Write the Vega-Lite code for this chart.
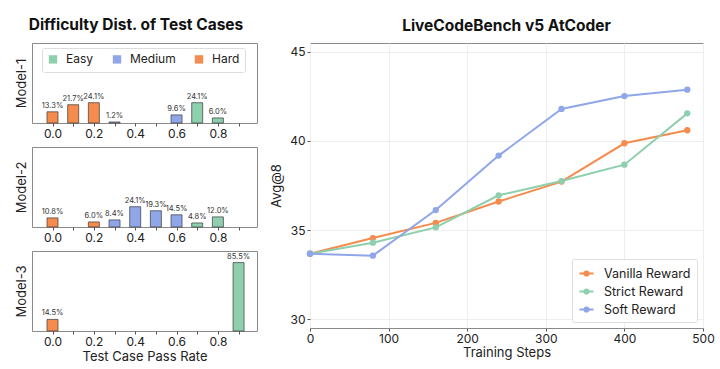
{
  "$schema": "https://vega.github.io/schema/vega-lite/v6.json",
  "padding": {"left": 14, "top": 18, "right": 2, "bottom": 4},
  "config": {
    "font": "Inter",
    "view": {"stroke": "#8a8a8a", "strokeWidth": 1},
    "title": {"fontSize": 15.5, "fontWeight": "bold", "color": "#111", "offset": 9},
    "axis": {"labelFont": "Inter", "titleFont": "Inter", "labelColor": "#222", "titleColor": "#222", "titleFontWeight": "normal", "tickColor": "#555", "domain": false}
  },
  "datasets": {
    "bars": [
      {"model": "Model-1", "rate": 0.0, "pct": 13.3, "level": "Hard", "label": "13.3%"},
      {"model": "Model-1", "rate": 0.1, "pct": 21.7, "level": "Hard", "label": "21.7%"},
      {"model": "Model-1", "rate": 0.2, "pct": 24.1, "level": "Hard", "label": "24.1%"},
      {"model": "Model-1", "rate": 0.3, "pct": 1.2, "level": "Medium", "label": "1.2%"},
      {"model": "Model-1", "rate": 0.6, "pct": 9.6, "level": "Medium", "label": "9.6%"},
      {"model": "Model-1", "rate": 0.7, "pct": 24.1, "level": "Easy", "label": "24.1%"},
      {"model": "Model-1", "rate": 0.8, "pct": 6.0, "level": "Easy", "label": "6.0%"},
      {"model": "Model-2", "rate": 0.0, "pct": 10.8, "level": "Hard", "label": "10.8%"},
      {"model": "Model-2", "rate": 0.2, "pct": 6.0, "level": "Hard", "label": "6.0%"},
      {"model": "Model-2", "rate": 0.3, "pct": 8.4, "level": "Medium", "label": "8.4%"},
      {"model": "Model-2", "rate": 0.4, "pct": 24.1, "level": "Medium", "label": "24.1%"},
      {"model": "Model-2", "rate": 0.5, "pct": 19.3, "level": "Medium", "label": "19.3%"},
      {"model": "Model-2", "rate": 0.6, "pct": 14.5, "level": "Medium", "label": "14.5%"},
      {"model": "Model-2", "rate": 0.7, "pct": 4.8, "level": "Easy", "label": "4.8%"},
      {"model": "Model-2", "rate": 0.8, "pct": 12.0, "level": "Easy", "label": "12.0%"},
      {"model": "Model-3", "rate": 0.0, "pct": 14.5, "level": "Hard", "label": "14.5%"},
      {"model": "Model-3", "rate": 0.9, "pct": 85.5, "level": "Easy", "label": "85.5%"}
    ],
    "lines": [
      {"step": 0, "score": 33.67, "series": "Vanilla Reward"},
      {"step": 80, "score": 34.55, "series": "Vanilla Reward"},
      {"step": 160, "score": 35.4, "series": "Vanilla Reward"},
      {"step": 240, "score": 36.6, "series": "Vanilla Reward"},
      {"step": 320, "score": 37.72, "series": "Vanilla Reward"},
      {"step": 400, "score": 39.87, "series": "Vanilla Reward"},
      {"step": 480, "score": 40.6, "series": "Vanilla Reward"},
      {"step": 0, "score": 33.67, "series": "Strict Reward"},
      {"step": 80, "score": 34.29, "series": "Strict Reward"},
      {"step": 160, "score": 35.15, "series": "Strict Reward"},
      {"step": 240, "score": 36.95, "series": "Strict Reward"},
      {"step": 320, "score": 37.75, "series": "Strict Reward"},
      {"step": 400, "score": 38.67, "series": "Strict Reward"},
      {"step": 480, "score": 41.55, "series": "Strict Reward"},
      {"step": 0, "score": 33.67, "series": "Soft Reward"},
      {"step": 80, "score": 33.56, "series": "Soft Reward"},
      {"step": 160, "score": 36.12, "series": "Soft Reward"},
      {"step": 240, "score": 39.18, "series": "Soft Reward"},
      {"step": 320, "score": 41.8, "series": "Soft Reward"},
      {"step": 400, "score": 42.52, "series": "Soft Reward"},
      {"step": 480, "score": 42.88, "series": "Soft Reward"}
    ]
  },
  "resolve": {"scale": {"color": "independent"}, "legend": {"color": "independent"}},
  "spacing": 12,
  "hconcat": [
    {
      "title": {"text": "Difficulty Dist. of Test Cases", "anchor": "middle"},
      "spacing": 6,
      "resolve": {"scale": {"color": "independent", "x": "independent", "y": "independent"}, "legend": {"color": "independent"}},
      "vconcat": [
        {
          "width": 225, "height": 80,
          "data": {"name": "bars"},
          "transform": [{"filter": "datum.model == 'Model-1'"}],
          "encoding": {
            "x": {"field": "rate", "type": "quantitative", "scale": {"domain": [-0.075, 0.965], "nice": false, "zero": false},
              "axis": {"title": null, "grid": false, "values": [0, 0.1, 0.2, 0.3, 0.4, 0.5, 0.6, 0.7, 0.8, 0.9], "labelExpr": "(round(datum.value*10) % 2 == 0 && datum.value < 0.85) ? format(datum.value, '.1f') : ''", "labelFontSize": 12, "tickSize": 3, "labelPadding": 2}},
            "y": {"field": "pct", "type": "quantitative", "scale": {"domain": [0, 95], "nice": false},
              "axis": {"title": "Model-1", "labels": false, "ticks": false, "grid": false, "titleFontSize": 13, "titlePadding": 4}}
          },
          "layer": [
            {"mark": {"type": "bar", "size": 11, "stroke": "#3a3a3a", "strokeWidth": 0.7},
             "encoding": {"color": {"field": "level", "type": "nominal", "scale": {"domain": ["Easy", "Medium", "Hard"], "range": ["#8ecfae", "#8fa6e8", "#f58b4c"]},
               "legend": {"title": null, "orient": "none", "legendX": 10, "legendY": 5, "direction": "horizontal", "symbolType": "square", "symbolSize": 70, "symbolStrokeColor": "transparent", "labelFontSize": 12, "labelFont": "Inter", "labelColor": "#222", "columnPadding": 15, "labelOffset": 7, "strokeColor": "#dddddd", "fillColor": "white", "padding": 5, "cornerRadius": 2}}}},
            {"mark": {"type": "text", "dy": -2, "baseline": "bottom", "fontSize": 7.5, "color": "#333"},
             "encoding": {"text": {"field": "label"}}}
          ]
        },
        {
          "width": 225, "height": 80,
          "data": {"name": "bars"},
          "transform": [{"filter": "datum.model == 'Model-2'"}],
          "encoding": {
            "x": {"field": "rate", "type": "quantitative", "scale": {"domain": [-0.075, 0.965], "nice": false, "zero": false},
              "axis": {"title": null, "grid": false, "values": [0, 0.1, 0.2, 0.3, 0.4, 0.5, 0.6, 0.7, 0.8, 0.9], "labelExpr": "(round(datum.value*10) % 2 == 0 && datum.value < 0.85) ? format(datum.value, '.1f') : ''", "labelFontSize": 12, "tickSize": 3, "labelPadding": 2}},
            "y": {"field": "pct", "type": "quantitative", "scale": {"domain": [0, 95], "nice": false},
              "axis": {"title": "Model-2", "labels": false, "ticks": false, "grid": false, "titleFontSize": 13, "titlePadding": 4}}
          },
          "layer": [
            {"mark": {"type": "bar", "size": 11, "stroke": "#3a3a3a", "strokeWidth": 0.7},
             "encoding": {"color": {"field": "level", "type": "nominal", "scale": {"domain": ["Easy", "Medium", "Hard"], "range": ["#8ecfae", "#8fa6e8", "#f58b4c"]}, "legend": null}}},
            {"mark": {"type": "text", "dy": -2, "baseline": "bottom", "fontSize": 7.5, "color": "#333"},
             "encoding": {"text": {"field": "label"}}}
          ]
        },
        {
          "width": 225, "height": 80,
          "data": {"name": "bars"},
          "transform": [{"filter": "datum.model == 'Model-3'"}],
          "encoding": {
            "x": {"field": "rate", "type": "quantitative", "scale": {"domain": [-0.075, 0.965], "nice": false, "zero": false},
              "axis": {"title": "Test Case Pass Rate", "titleFontSize": 13, "titlePadding": 3, "grid": false, "values": [0, 0.1, 0.2, 0.3, 0.4, 0.5, 0.6, 0.7, 0.8, 0.9], "labelExpr": "(round(datum.value*10) % 2 == 0 && datum.value < 0.85) ? format(datum.value, '.1f') : ''", "labelFontSize": 12, "tickSize": 3, "labelPadding": 2}},
            "y": {"field": "pct", "type": "quantitative", "scale": {"domain": [0, 100], "nice": false},
              "axis": {"title": "Model-3", "labels": false, "ticks": false, "grid": false, "titleFontSize": 13, "titlePadding": 4}}
          },
          "layer": [
            {"mark": {"type": "bar", "size": 11, "stroke": "#3a3a3a", "strokeWidth": 0.7},
             "encoding": {"color": {"field": "level", "type": "nominal", "scale": {"domain": ["Easy", "Medium", "Hard"], "range": ["#8ecfae", "#8fa6e8", "#f58b4c"]}, "legend": null}}},
            {"mark": {"type": "text", "dy": -2, "baseline": "bottom", "fontSize": 7.5, "color": "#333"},
             "encoding": {"text": {"field": "label"}}}
          ]
        }
      ]
    },
    {
      "title": {"text": "LiveCodeBench v5 AtCoder", "anchor": "middle"},
      "width": 393, "height": 285,
      "data": {"name": "lines"},
      "mark": {"type": "line", "strokeWidth": 2, "point": {"filled": true, "size": 40}},
      "encoding": {
        "x": {"field": "step", "type": "quantitative", "scale": {"domain": [0, 500], "nice": false},
          "axis": {"title": "Training Steps", "titleFontSize": 13, "titlePadding": 2, "values": [0, 100, 200, 300, 400, 500], "labelFontSize": 12, "tickSize": 3, "labelPadding": 2, "grid": true, "gridColor": "#eeeeee", "labelFlush": false}},
        "y": {"field": "score", "type": "quantitative", "scale": {"domain": [29.5, 45.5], "nice": false, "zero": false},
          "axis": {"title": "Avg@8", "titleFontSize": 13, "titlePadding": 6, "values": [30, 35, 40, 45], "labelFontSize": 12, "tickSize": 3, "labelPadding": 2, "grid": true, "gridColor": "#eeeeee"}},
        "color": {"field": "series", "type": "nominal", "sort": ["Vanilla Reward", "Strict Reward", "Soft Reward"],
          "scale": {"domain": ["Vanilla Reward", "Strict Reward", "Soft Reward"], "range": ["#f58b4c", "#8ecfae", "#8fa6e8"]},
          "legend": {"title": null, "orient": "bottom-right", "offset": 6, "symbolType": "M-1,0L1,0M-0.3,0A0.3,0.3,0,1,0,0.3,0A0.3,0.3,0,1,0,-0.3,0", "symbolSize": 200, "symbolStrokeWidth": 2, "labelFontSize": 12.5, "labelFont": "Inter", "labelColor": "#222", "strokeColor": "#dddddd", "fillColor": "white", "padding": 6, "rowPadding": 3, "labelOffset": 9, "cornerRadius": 2}}
      }
    }
  ]
}
